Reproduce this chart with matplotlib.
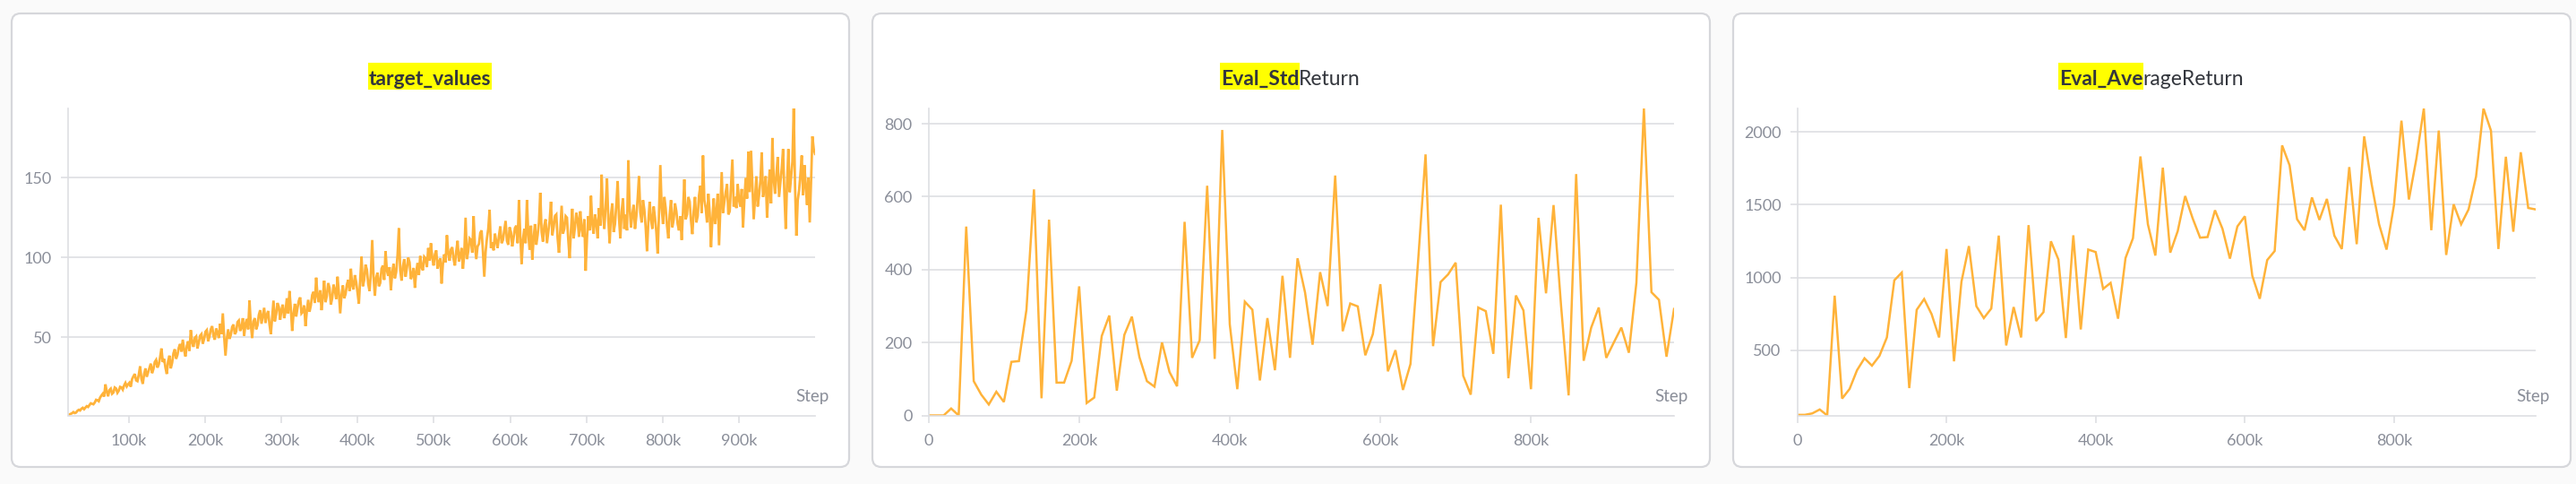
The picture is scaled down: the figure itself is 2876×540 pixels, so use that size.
import numpy as np
import matplotlib
matplotlib.use("Agg")
import matplotlib.pyplot as plt
from matplotlib.patches import FancyBboxPatch, Rectangle
from matplotlib.transforms import IdentityTransform
from matplotlib.ticker import FuncFormatter

plt.rcParams['font.family'] = ['Lato', 'DejaVu Sans']

W, H = 2876, 540

# target_values, every 1.75k steps from 20k to 1M
target_steps = np.arange(20000, 1000001, 1750)
target_values = [
    1.0, 1.6, 2.0, 2.4, 3.1, 2.5, 2.8, 3.9, 4.5, 4.1, 5.2, 5.8, 4.9, 5.9, 6.8, 6.3, 7.5, 8.6, 8.3, 8.0,
    9.1, 10.8, 10.5, 9.9, 12.2, 13.5, 14.6, 12.8, 20.5, 16.0, 13.0, 16.9, 17.8, 14.6, 15.4, 18.5, 17.9, 15.2, 16.5, 18.9,
    18.6, 17.2, 19.8, 21.4, 19.2, 20.5, 21.5, 19.0, 23.8, 25.5, 27.0, 23.0, 22.5, 26.5, 31.8, 24.0, 20.8, 26.8, 30.5, 25.2,
    28.0, 31.0, 33.5, 27.5, 30.2, 34.5, 35.8, 31.0, 33.0, 37.5, 43.0, 34.5, 36.5, 31.0, 27.0, 35.0, 38.5, 30.5, 34.0, 40.0,
    42.5, 36.5, 39.0, 43.5, 45.8, 41.0, 48.5, 42.0, 38.0, 44.5, 47.5, 41.5, 54.5, 47.0, 44.0, 49.5, 50.5, 43.0, 46.8, 51.0,
    52.0, 46.0, 49.0, 53.5, 54.5, 47.5, 50.5, 55.0, 57.0, 51.0, 48.5, 55.5, 53.0, 49.5, 58.5, 52.0, 65.0, 50.5, 38.5, 49.0,
    55.0, 49.0, 51.5, 56.5, 58.0, 52.0, 53.5, 59.5, 60.5, 54.0, 56.0, 62.0, 51.0, 58.5, 61.5, 55.0, 73.0, 58.0, 49.5, 60.0,
    62.0, 55.0, 57.5, 64.0, 67.0, 58.5, 63.5, 68.5, 59.0, 64.0, 66.5, 58.0, 52.0, 62.5, 73.0, 60.0, 64.5, 71.5, 69.0, 61.0,
    67.5, 70.5, 62.0, 66.0, 74.5, 65.0, 79.0, 68.0, 54.0, 64.5, 71.0, 63.0, 68.5, 73.0, 75.0, 65.0, 66.0, 70.0, 57.0, 66.5,
    73.5, 66.0, 70.0, 76.5, 78.5, 71.5, 87.4, 76.0, 72.0, 79.5, 67.0, 75.0, 85.5, 72.0, 76.0, 84.0, 81.0, 70.5, 74.5, 83.0,
    79.5, 74.0, 88.0, 78.0, 65.0, 76.5, 82.5, 74.5, 77.0, 83.0, 86.0, 79.0, 93.0, 82.5, 80.0, 89.0, 84.5, 78.0, 71.0, 86.5,
    100.5, 82.0, 86.0, 95.5, 92.5, 83.5, 79.0, 90.0, 111.0, 88.0, 76.0, 87.5, 90.5, 82.0, 84.0, 93.0, 95.0, 86.0, 104.0, 92.0,
    88.5, 94.0, 79.5, 90.5, 96.0, 87.0, 91.0, 101.5, 118.4, 92.0, 85.5, 94.5, 99.0, 88.0, 93.5, 100.0, 97.0, 86.5, 89.0, 93.5,
    81.0, 91.0, 96.5, 89.0, 101.0, 94.0, 92.0, 100.5, 99.5, 94.0, 106.0, 98.0, 109.0, 100.0, 95.0, 102.0, 104.5, 93.0, 97.0, 99.5,
    83.7, 96.0, 102.0, 97.0, 114.0, 103.0, 98.0, 105.0, 106.5, 99.0, 95.0, 104.0, 110.5, 97.5, 101.0, 106.0, 93.0, 102.0, 125.0, 99.0,
    104.0, 112.0, 111.0, 103.0, 126.0, 108.0, 99.0, 107.0, 108.5, 115.5, 117.0, 104.0, 88.0, 103.5, 112.0, 118.0, 130.0, 106.0, 109.5, 104.5,
    115.0, 110.0, 106.0, 113.5, 119.5, 109.0, 111.0, 117.0, 123.0, 110.5, 108.0, 119.0, 116.0, 107.0, 112.5, 118.5, 120.0, 109.0, 136.0, 114.0,
    96.0, 111.0, 118.0, 109.0, 136.0, 115.0, 105.0, 120.0, 98.7, 112.0, 121.0, 108.0, 114.0, 122.0, 140.6, 116.0, 110.0, 120.0, 124.0, 109.0,
    116.0, 123.0, 135.0, 114.0, 119.0, 126.0, 127.0, 112.0, 103.0, 117.0, 132.5, 115.0, 118.0, 126.0, 125.0, 111.0, 99.6, 117.0, 130.6, 112.0,
    119.0, 128.0, 124.0, 113.0, 129.0, 118.0, 113.0, 124.0, 91.7, 112.0, 126.0, 117.0, 138.7, 121.0, 115.0, 127.0, 122.0, 112.0, 131.0, 120.0,
    152.0, 128.0, 118.0, 132.0, 149.5, 124.0, 109.0, 127.0, 134.0, 116.0, 121.0, 133.0, 148.0, 125.0, 112.0, 129.0, 137.0, 118.0, 127.0, 117.0,
    161.0, 131.0, 119.0, 127.0, 133.0, 118.0, 126.0, 137.0, 151.0, 128.0, 122.0, 136.0, 130.0, 119.0, 104.0, 122.0, 135.0, 124.0, 118.0, 132.0,
    125.0, 116.0, 102.5, 128.0, 158.0, 131.0, 121.0, 138.0, 131.0, 120.0, 112.0, 127.0, 136.0, 119.0, 124.0, 134.0, 129.0, 121.0, 117.0, 126.0,
    111.0, 129.0, 149.0, 124.0, 127.0, 138.0, 135.0, 123.0, 114.7, 129.0, 138.0, 122.0, 126.0, 139.0, 145.0, 128.0, 164.0, 136.0, 131.0, 122.0,
    140.0, 128.0, 106.6, 124.0, 137.0, 121.0, 128.0, 140.0, 107.7, 131.0, 153.6, 128.0, 135.0, 141.0, 146.0, 127.0, 129.0, 145.0, 161.5, 132.0,
    138.0, 131.0, 146.0, 136.0, 132.0, 143.0, 119.0, 136.0, 150.0, 137.0, 166.4, 141.0, 167.0, 146.0, 124.0, 138.0, 151.0, 132.0, 139.0, 148.0,
    166.0, 138.0, 143.0, 151.0, 125.0, 142.0, 155.0, 134.0, 175.0, 149.0, 140.0, 152.0, 163.0, 138.0, 147.0, 156.0, 168.0, 140.0, 118.0, 147.0,
    168.0, 141.0, 150.0, 160.0, 193.5, 144.0, 113.7, 136.0, 142.0, 152.0, 164.0, 139.0, 158.0, 145.0, 133.0, 150.0, 122.0, 148.0, 176.0, 168.0,
    165.0,
]

# eval metrics, every 10k steps
eval_steps = np.arange(0, 1000000, 10000)
eval_std = [
    0, 0, 0, 19, 0, 518, 94, 57, 30, 65,
    37, 147, 149, 290, 620, 47, 537, 90, 90, 150,
    354, 34, 49, 218, 274, 68, 221, 271, 160, 94,
    79, 200, 119, 80, 531, 158, 206, 630, 155, 783,
    250, 72, 312, 290, 96, 267, 124, 383, 158, 431,
    337, 194, 393, 300, 658, 231, 307, 299, 165, 223,
    360, 121, 179, 70, 141, 420, 716, 190, 366, 387,
    419, 109, 57, 296, 286, 169, 578, 102, 329, 288,
    72, 542, 335, 577, 300, 55, 662, 150, 241, 296,
    158, 200, 241, 172, 364, 842, 338, 317, 161, 292,
]
eval_avg = [
    56, 56, 66, 93, 52, 875, 168, 234, 363, 445,
    394, 461, 588, 981, 1034, 240, 778, 852, 748, 588,
    1196, 424, 971, 1216, 803, 721, 787, 1288, 533, 797,
    588, 1360, 701, 762, 1249, 1124, 584, 1290, 643, 1192,
    1175, 922, 963, 717, 1134, 1270, 1832, 1366, 1151, 1755,
    1171, 1319, 1560, 1407, 1274, 1278, 1462, 1335, 1130, 1351,
    1421, 1012, 854, 1120, 1182, 1908, 1771, 1401, 1325, 1550,
    1396, 1540, 1288, 1196, 1759, 1229, 1970, 1643, 1366, 1192,
    1499, 2078, 1536, 1816, 2162, 1325, 2010, 1155, 1503, 1366,
    1468, 1693, 2162, 2010, 1196, 1830, 1315, 1861, 1478, 1468,
]

line_color = '#ffb33a'
grid_color = '#dedfe3'
label_color = '#8a8e99'
title_color = '#33363d'
border_color = '#d6d7db'

fig = plt.figure(figsize=(W / 100, H / 100), dpi=100, facecolor='#fafafa')


def kfmt(v, pos):
    if v == 0:
        return '0'
    return f'{int(round(v / 1000))}k'


def card(x0, x1, y0=15, y1=521):
    p = FancyBboxPatch((x0, H - y1), x1 - x0, y1 - y0,
                       boxstyle='round,pad=0,rounding_size=10',
                       transform=IdentityTransform(), facecolor='white',
                       edgecolor=border_color, linewidth=1.6, zorder=-5)
    fig.add_artist(p)


def panel(left, right, x, y, xlim, xticks, yticks, lw):
    top, bottom = 121, 463.5
    ax = fig.add_axes([left / W, 1 - bottom / H, (right - left) / W, (bottom - top) / H])
    ax.plot(x, y, color=line_color, lw=lw, solid_joinstyle='miter')
    ax.set_xlim(*xlim)
    ax.set_ylim(min(y), max(y))
    ax.set_xticks(xticks)
    ax.set_yticks(yticks)
    ax.xaxis.set_major_formatter(FuncFormatter(kfmt))
    ax.grid(axis='y', color=grid_color, lw=1.2)
    ax.set_axisbelow(True)
    for s in ['top', 'right']:
        ax.spines[s].set_visible(False)
    for s in ['left', 'bottom']:
        ax.spines[s].set_color(grid_color)
        ax.spines[s].set_linewidth(1.2)
    ax.tick_params(axis='both', length=6, width=1.2, color=grid_color,
                   labelcolor=label_color, labelsize=13)
    ax.tick_params(axis='x', pad=8.5)
    ax.tick_params(axis='y', pad=7)
    ax.set_facecolor('white')
    fig.text((right + 16) / W, 1 - 448 / H, 'Step', ha='right', va='baseline',
             color=label_color, fontsize=13.5)
    return ax


def title(cx, hi, rest):
    r = fig.canvas.get_renderer()
    t1 = fig.text(0, 1 - 95 / H, hi, fontsize=16.5, fontweight='bold',
                  color=title_color, va='baseline', ha='left', zorder=3)
    w1 = t1.get_window_extent(r).width
    w2 = 0
    t2 = None
    if rest:
        t2 = fig.text(0, 1 - 95 / H, rest, fontsize=16.5, fontweight='normal',
                      color=title_color, va='baseline', ha='left', zorder=3)
        w2 = t2.get_window_extent(r).width
    x0 = cx - (w1 + w2) / 2
    t1.set_x(x0 / W)
    if t2 is not None:
        t2.set_x((x0 + w1) / W)
    fig.add_artist(Rectangle((x0 - 1, H - 100), w1 + 2, 30, transform=IdentityTransform(),
                             facecolor='#ffff00', edgecolor='none', zorder=1))


cards = [(13, 948), (974, 1909), (1935, 2870)]
for c in cards:
    card(*c)

panel(76, 910, target_steps, target_values, (20000, 1000000),
      [100000 * i for i in range(1, 10)], [50, 100, 150], 2.0)
panel(1036.7, 1869, eval_steps, eval_std, (0, 990000),
      [0, 200000, 400000, 600000, 800000], [0, 200, 400, 600, 800], 1.8)
panel(2006.7, 2831, eval_steps, eval_avg, (0, 990000),
      [0, 200000, 400000, 600000, 800000], [500, 1000, 1500, 2000], 1.8)

title(480, 'target_values', '')
title(1441, 'Eval_Std', 'Return')
title(2402, 'Eval_Ave', 'rageReturn')

fig.savefig('out.png', dpi=100, facecolor=fig.get_facecolor())
